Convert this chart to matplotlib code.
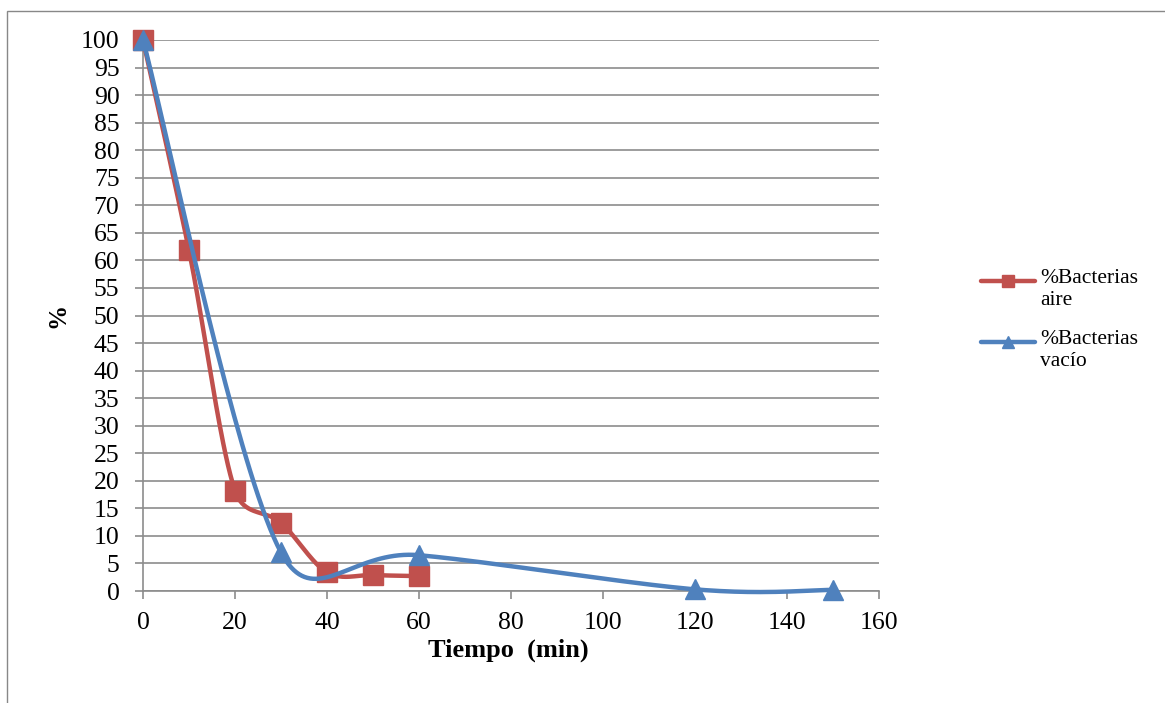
import matplotlib
matplotlib.use('Agg')
import matplotlib.pyplot as plt
import numpy as np
from matplotlib.lines import Line2D
from matplotlib.patches import Rectangle

# data
t_aire = [0, 10, 20, 30, 40, 50, 60]
pct_aire = [100, 61.8, 18.2, 12.4, 3.4, 2.9, 2.7]
t_vacio = [0, 30, 60, 120, 150]
pct_vacio = [100, 7.0, 6.5, 0.3, 0.2]

labels = ['%Bacterias\naire', '%Bacterias\nvacío']
red = '#C0504D'
blue = '#4F81BD'
grid_col = '#8C8C8C'

# pixels per data unit, used so the smoothing behaves like it does on screen
SX = 736 / 160
SY = 551 / 100


def smooth(x, y, n=40):
    # bezier smoothing (spreadsheet style), control arms clamped to half a segment
    p = np.column_stack([np.array(x) * SX, np.array(y) * SY]).astype(float)
    p = np.vstack([p[0], p, p[-1]])
    out = []
    s = np.linspace(0, 1, n)[:, None]
    for i in range(1, len(p) - 2):
        p0, p1, p2, p3 = p[i - 1], p[i], p[i + 1], p[i + 2]
        seg_len = np.linalg.norm(p2 - p1)
        d1 = (p2 - p0) / 6
        d2 = (p3 - p1) / 6
        if np.linalg.norm(d1) > seg_len / 2:
            d1 = d1 / np.linalg.norm(d1) * seg_len / 2
        if np.linalg.norm(d2) > seg_len / 2:
            d2 = d2 / np.linalg.norm(d2) * seg_len / 2
        b1 = p1 + d1
        b2 = p2 - d2
        seg = ((1 - s) ** 3 * p1 + 3 * (1 - s) ** 2 * s * b1
               + 3 * (1 - s) * s ** 2 * b2 + s ** 3 * p2)
        out.append(seg)
    out = np.vstack(out)
    return out[:, 0] / SX, out[:, 1] / SY


plt.rcParams['font.family'] = ['Liberation Serif', 'DejaVu Serif']

fig = plt.figure(figsize=(11.65, 7.03), dpi=100)
ax = fig.add_axes([143 / 1165, 1 - 591 / 703, (879 - 143) / 1165, (591 - 40) / 703])

# outer chart frame
fig.patches.append(Rectangle((7 / 1165, -0.2), 1.2, 1 - 11 / 703 + 0.2,
                             transform=fig.transFigure, fill=False,
                             edgecolor='#888888', linewidth=1))

ax.set_xlim(0, 160)
ax.set_ylim(0, 100)
ax.set_xticks(np.arange(0, 161, 20))
ax.set_yticks(np.arange(0, 101, 5))
ax.yaxis.grid(True, color=grid_col, linewidth=1.2)
ax.set_axisbelow(True)
for side in ['top', 'right']:
    ax.spines[side].set_visible(False)
ax.spines['left'].set_color(grid_col)
ax.spines['bottom'].set_color(grid_col)
ax.spines['left'].set_linewidth(1.2)
ax.spines['bottom'].set_linewidth(1.2)
ax.tick_params(axis='both', colors=grid_col, labelcolor='black', labelsize=18.5,
               length=6, width=1.2)
ax.tick_params(axis='x', pad=9)
ax.tick_params(axis='y', pad=11)

xs, ys = smooth(t_aire, pct_aire)
ax.plot(xs, ys, color=red, linewidth=3.2, clip_on=False, zorder=3)
ax.plot(t_aire, pct_aire, 's', color=red, markersize=14, clip_on=False, zorder=4)

xs, ys = smooth(t_vacio, pct_vacio)
ax.plot(xs, ys, color=blue, linewidth=3.2, clip_on=False, zorder=5)
ax.plot(t_vacio, pct_vacio, '^', color=blue, markersize=14, clip_on=False, zorder=6)

ax.set_xlabel('Tiempo  (min)', fontsize=19, fontweight='bold', va='center')
ax.xaxis.set_label_coords((508 - 143) / 736, (591 - 650) / 551)
ax.set_ylabel('%', fontsize=18, fontweight='bold', va='center')
ax.yaxis.set_label_coords((58 - 143) / 736, (591 - 315) / 551)

# legend drawn by hand so the symbol sits on the first text line
for i, (lab, c, m) in enumerate(zip(labels, [red, blue], ['s', '^'])):
    yl = 1 - (281 + 61 * i) / 703
    fig.add_artist(Line2D([981 / 1165, 1035 / 1165], [yl, yl], color=c,
                          linewidth=3.2, solid_capstyle='round',
                          transform=fig.transFigure))
    fig.add_artist(Line2D([1008 / 1165], [yl], marker=m, color=c, markersize=9,
                          transform=fig.transFigure))
    fig.text(1040 / 1165, 1 - (269 + 61 * i) / 703, lab, fontsize=15.5,
             ha='left', va='top', linespacing=1.2, transform=fig.transFigure)

fig.savefig('out.png', dpi=100)
